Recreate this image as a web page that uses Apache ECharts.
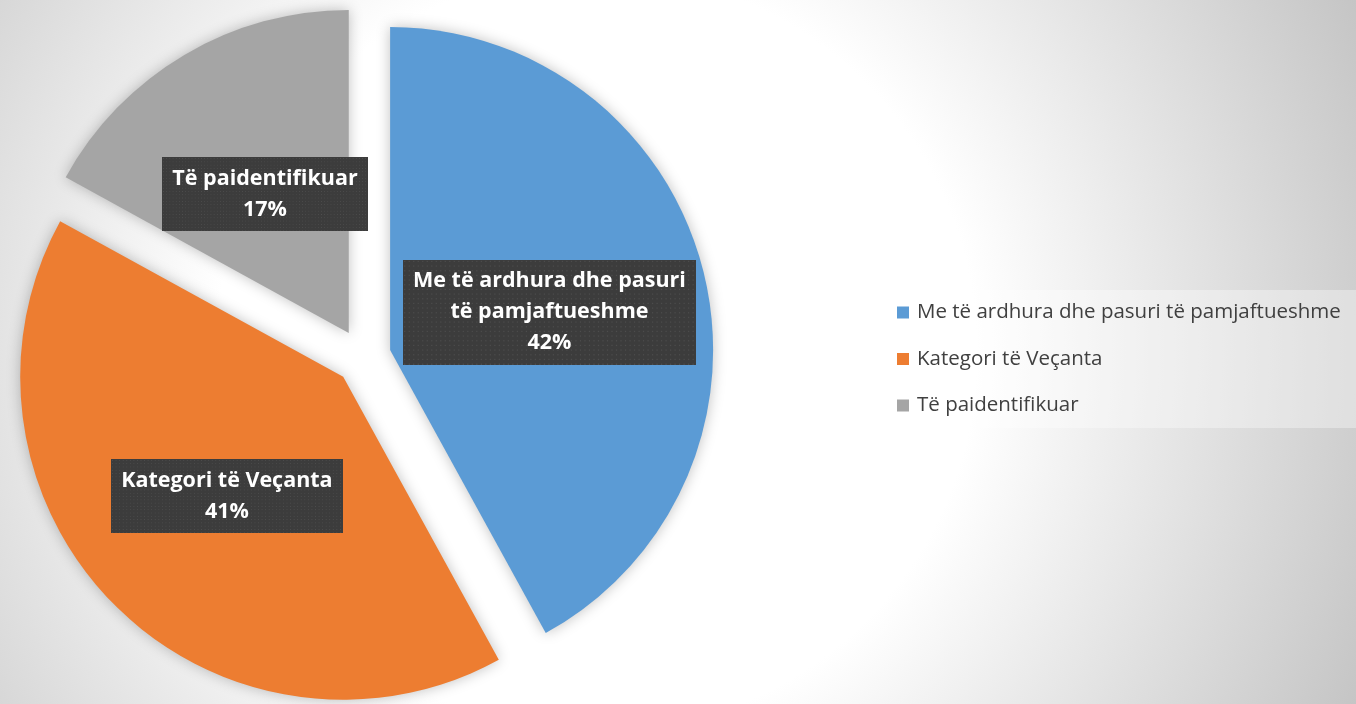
<!DOCTYPE html>
<html>
<head>
<meta charset="utf-8">
<script src="https://cdn.jsdelivr.net/npm/echarts@6/dist/echarts.min.js"></script>
<style>
  html, body { margin: 0; padding: 0; }
  #chart { width: 1356px; height: 704px; }
</style>
</head>
<body>
<div id="chart"></div>
<script>
  // data
  const categories = [
    'Me të ardhura dhe pasuri të pamjaftueshme',
    'Kategori të Veçanta',
    'Të paidentifikuar'
  ]
  const values = [42, 41, 17]
  const colors = ['#5b9bd5', '#ed7d31', '#a5a5a5']

  // dotted dark texture for the label boxes
  function dotTexture(w, h) {
    const c = document.createElement('canvas')
    c.width = w
    c.height = h
    const ctx = c.getContext('2d')
    ctx.fillStyle = '#3c3c3c'
    ctx.fillRect(0, 0, w, h)
    ctx.fillStyle = '#4f4f4f'
    for (let x = 1; x < w; x += 4) {
      for (let y = 1; y < h; y += 4) {
        ctx.fillRect(x, y, 1, 1)
      }
    }
    return c
  }
  const texture = dotTexture(260, 90)

  // wrap long names on the last space before maxLen chars
  function wrap(name, maxLen) {
    if (name.length <= maxLen) return name
    const cut = name.lastIndexOf(' ', maxLen)
    return name.slice(0, cut) + '\n' + name.slice(cut + 1)
  }

  const chart = echarts.init(document.getElementById('chart'))

  chart.setOption({
    animation: false,
    backgroundColor: {
      type: 'radial',
      x: 0.44,
      y: 0.5,
      r: 1.2,
      colorStops: [
        {offset: 0, color: '#ffffff'},
        {offset: 0.45, color: '#ffffff'},
        {offset: 1, color: '#c4c4c4'}
      ]
    },
    legend: {
      orient: 'vertical',
      left: 882,
      top: 290,
      padding: [12, 16, 12, 15],
      itemGap: 25.5,
      itemWidth: 12,
      itemHeight: 12,
      icon: 'rect',
      backgroundColor: 'rgba(255,255,255,0.35)',
      textStyle: {
        fontFamily: 'Open Sans',
        fontSize: 20.5,
        color: '#404040',
        padding: [0, 0, 0, 3]
      },
      data: categories
    },
    series: [{
      type: 'pie',
      center: [363, 357],
      radius: 323,
      startAngle: 90,
      selectedMode: 'multiple',
      selectedOffset: 28,
      avoidLabelOverlap: false,
      emphasis: {disabled: true},
      itemStyle: {
        shadowBlur: 14,
        shadowColor: 'rgba(0,0,0,0.25)'
      },
      label: {
        show: true,
        position: 'inside',
        formatter: p => wrap(p.name, 26) + '\n' + p.percent + '%',
        fontFamily: 'Open Sans',
        fontWeight: 'bold',
        fontSize: 21.5,
        lineHeight: 31,
        color: '#ffffff',
        align: 'center',
        backgroundColor: {image: texture},
        padding: [7, 10, 5, 10],
        shadowBlur: 6,
        shadowOffsetX: 3,
        shadowOffsetY: 3,
        shadowColor: 'rgba(0,0,0,0.45)'
      },
      labelLine: {show: false},
      labelLayout: function () {
        return {dy: 3}
      },
      data: categories.map((name, i) => ({
        name: name,
        value: values[i],
        selected: true,
        itemStyle: {color: colors[i]}
      }))
    }]
  })
</script>
</body>
</html>
